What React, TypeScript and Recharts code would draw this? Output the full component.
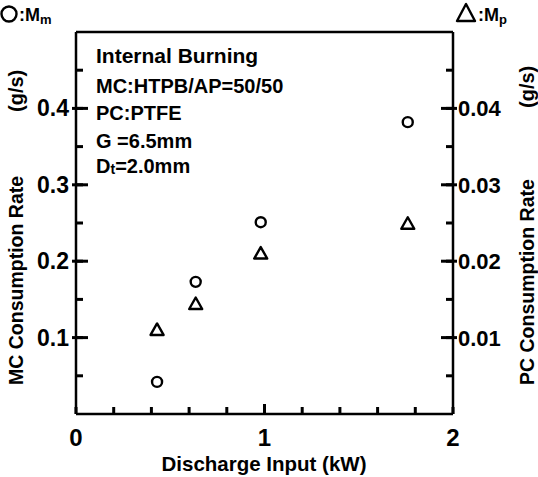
import React from 'react';
import { ScatterChart, Scatter, XAxis, YAxis } from 'recharts';

const dischargeInput = [0.43, 0.635, 0.98, 1.76];
const mcRate = [0.042, 0.173, 0.251, 0.382];
const pcRate = [0.011, 0.0144, 0.021, 0.0249];

const xTicks = [0, 0.2, 0.4, 0.6, 0.8, 1, 1.2, 1.4, 1.6, 1.8, 2];
const xLabels = [0, 1, 2];
const leftTicks = [0.05, 0.1, 0.15, 0.2, 0.25, 0.3, 0.35, 0.4, 0.45];
const leftLabels = [0.1, 0.2, 0.3, 0.4];
const rightTicks = [0.005, 0.01, 0.015, 0.02, 0.025, 0.03, 0.035, 0.04, 0.045];
const rightLabels = [0.01, 0.02, 0.03, 0.04];

const FONT = "'Liberation Sans', Arial, sans-serif";
const TICK = 7;

const mcData = dischargeInput.map((x, i) => ({ x, y: mcRate[i] }));
const pcData = dischargeInput.map((x, i) => ({ x, y: pcRate[i] }));

const isLabel = (list: number[], v: number) => list.some(l => Math.abs(l - v) < 1e-9);

const XTick = (props: any) => {
  const { x, y, payload } = props;
  const v = payload.value;
  const major = isLabel(xLabels, v);
  const inner = v > 0.01 && v < 1.99;
  return (
    <g>
      {inner && major && <line x1={x} x2={x} y1={y + 1} y2={y - 10} stroke="#000" strokeWidth={3} />}
      {major && (
        <text x={x} y={y + 32} textAnchor="middle" fontSize={24} fontFamily={FONT} fontWeight="bold" fill="#000">
          {v}
        </text>
      )}
    </g>
  );
};

const LeftTick = (props: any) => {
  const { x, y, payload } = props;
  const v = payload.value;
  const major = isLabel(leftLabels, v);
  return (
    <g>
      {major && <line x1={x - 4} x2={x + 12} y1={y} y2={y} stroke="#000" strokeWidth={3} />}
      {major && (
        <text x={x - 7} y={y + 8} textAnchor="end" fontSize={23} fontFamily={FONT} fontWeight="bold" fill="#000">
          {v.toFixed(1)}
        </text>
      )}
    </g>
  );
};

const RightTick = (props: any) => {
  const { x, y, payload } = props;
  const v = payload.value;
  const major = isLabel(rightLabels, v);
  return (
    <g>
      {major && <line x1={x + 4} x2={x - 12} y1={y} y2={y} stroke="#000" strokeWidth={3} />}
      {major && (
        <text x={x + 5} y={y + 8} textAnchor="start" fontSize={22} fontFamily={FONT} fontWeight="bold" fill="#000">
          {v.toFixed(2)}
        </text>
      )}
    </g>
  );
};

const CircleMark = (props: any) => (
  <circle cx={props.cx} cy={props.cy} r={5} fill="#fff" stroke="#000" strokeWidth={2.4} />
);

const TriangleMark = (props: any) => {
  const { cx, cy } = props;
  const pts = `${cx},${cy - 6.5} ${cx - 6.5},${cy + 5} ${cx + 6.5},${cy + 5}`;
  return <polygon points={pts} fill="#fff" stroke="#000" strokeWidth={2.4} strokeLinejoin="round" />;
};

const textStyle = { fontFamily: FONT, fontWeight: 'bold' as const, fill: '#000' };
const tickLineStyle = { stroke: '#000', strokeWidth: 3 };
const axisLineStyle = { stroke: '#000', strokeWidth: 2.5 };

const App = () => (
  <div style={{ position: 'absolute', left: 0, top: 0, width: 538, height: 477, background: '#fff' }}>
    <ScatterChart width={538} height={477} margin={{ top: 31, right: 84, bottom: 62, left: 75 }}>
      <XAxis
        xAxisId="bottom"
        dataKey="x"
        type="number"
        domain={[0, 2]}
        ticks={xTicks}
        interval={0}
        height={1}
        tickSize={-TICK}
        tickMargin={TICK}
        tickLine={tickLineStyle}
        tick={<XTick />}
        axisLine={axisLineStyle}
      />
      <XAxis
        xAxisId="top"
        orientation="top"
        type="number"
        domain={[0, 2]}
        height={1}
        tick={false}
        tickLine={false}
        axisLine={axisLineStyle}
      />
      <YAxis
        yAxisId="left"
        dataKey="y"
        type="number"
        domain={[0, 0.5]}
        ticks={leftTicks}
        interval={0}
        width={1}
        tickSize={-TICK}
        tickMargin={TICK}
        tickLine={tickLineStyle}
        tick={<LeftTick />}
        axisLine={axisLineStyle}
      />
      <YAxis
        yAxisId="right"
        orientation="right"
        dataKey="y"
        type="number"
        domain={[0, 0.05]}
        ticks={rightTicks}
        interval={0}
        width={1}
        tickSize={-TICK}
        tickMargin={TICK}
        tickLine={tickLineStyle}
        tick={<RightTick />}
        axisLine={axisLineStyle}
      />
      <Scatter xAxisId="bottom" yAxisId="left" data={mcData} shape={<CircleMark />} isAnimationActive={false} />
      <Scatter xAxisId="bottom" yAxisId="right" data={pcData} shape={<TriangleMark />} isAnimationActive={false} />
    </ScatterChart>
    <svg width={538} height={477} style={{ position: 'absolute', left: 0, top: 0, pointerEvents: 'none' }}>
      <g style={textStyle}>
        <circle cx={9} cy={14} r={7.5} fill="none" stroke="#000" strokeWidth={2.4} />
        <text x={19} y={21} fontSize={18}>:M<tspan fontSize={13} dy={3}>m</tspan></text>
        <polygon points="466,4 457,21 475,21" fill="none" stroke="#000" strokeWidth={2.4} strokeLinejoin="round" />
        <text x={478} y={21} fontSize={18}>:M<tspan fontSize={13} dy={3}>p</tspan></text>

        <text x={96} y={63} fontSize={21}>Internal Burning</text>
        <text x={96} y={93} fontSize={20}>MC:HTPB/AP=50/50</text>
        <text x={96} y={120} fontSize={20}>PC:PTFE</text>
        <text x={96} y={148} fontSize={20}>G =6.5mm</text>
        <text x={96} y={173} fontSize={20}>D<tspan fontSize={14} dy={1}>t</tspan><tspan dy={-1}>=2.0mm</tspan></text>

        <text x={264} y={471} fontSize={20.5} textAnchor="middle">Discharge Input (kW)</text>

        <text transform="translate(23,385) rotate(-90)" fontSize={19.5}>MC Consumption Rate</text>
        <text transform="translate(23,112) rotate(-90)" fontSize={20}>(g/s)</text>
        <text transform="translate(534,385) rotate(-90)" fontSize={19.5}>PC Consumption Rate</text>
        <text transform="translate(534,108) rotate(-90)" fontSize={20}>(g/s)</text>
      </g>
    </svg>
  </div>
);

export default App;
